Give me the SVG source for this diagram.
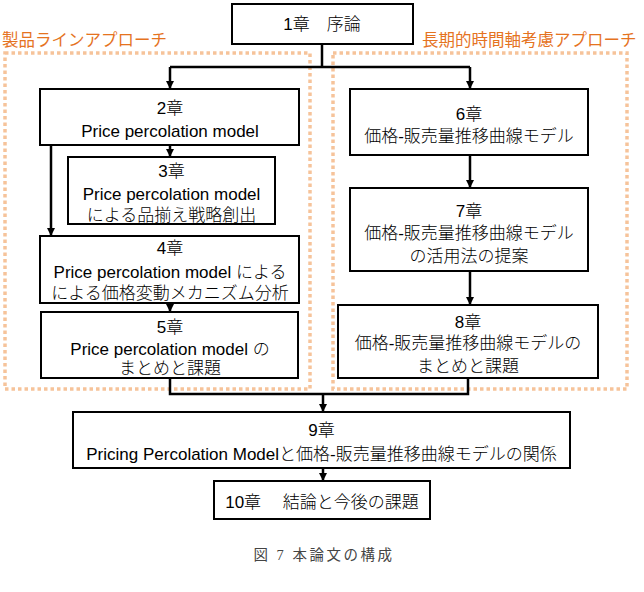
<svg xmlns="http://www.w3.org/2000/svg" width="644" height="592" viewBox="0 0 644 592">
<style>
.bx{fill:#fff;stroke:#000;stroke-width:2}
.t{font-family:"Liberation Sans","Noto Sans CJK JP",sans-serif;font-size:17px;font-weight:300;fill:#000;text-anchor:middle}
.c{fill:none;stroke:#000;stroke-width:2.5}
.grp{fill:none;stroke:#f6c39a;stroke-width:3.5;stroke-dasharray:3.5 3}
.lbl{font-family:"Noto Sans CJK JP",sans-serif;font-size:16.5px;font-weight:400;fill:#e5731f}
.cap{font-family:"Liberation Serif","Noto Sans CJK JP",serif;font-size:14.5px;fill:#444;text-anchor:middle;letter-spacing:2.5px}
</style>
<defs>
<marker id="ah" markerWidth="8" markerHeight="8" refX="7" refY="4" orient="auto" markerUnits="userSpaceOnUse">
<path d="M0,0 L8,4 L0,8 Z" fill="#000"/>
</marker>
</defs>
<g id="groups">
<rect class="grp" x="5" y="53" width="305" height="336"/>
<rect class="grp" x="333" y="53" width="294" height="336"/>
<text class="lbl" x="2" y="46">製品ラインアプローチ</text>
<text class="lbl" x="422" y="46">長期的時間軸考慮アプローチ</text>
</g>
<g id="connectors">
<polyline class="c" points="322,44 322,67"/>
<polyline class="c" points="170,67 470,67"/>
<polyline class="c" points="170,67 170,88" marker-end="url(#ah)"/>
<polyline class="c" points="470,67 470,88" marker-end="url(#ah)"/>
<polyline class="c" points="170,145 170,156" marker-end="url(#ah)"/>
<polyline class="c" points="51,145 51,235" marker-end="url(#ah)"/>
<polyline class="c" points="170,303 170,311" marker-end="url(#ah)"/>
<polyline class="c" points="470,155 470,187" marker-end="url(#ah)"/>
<polyline class="c" points="470,271 470,304" marker-end="url(#ah)"/>
<polyline class="c" points="170,378 170,394 468,394 468,378"/>
<polyline class="c" points="323,394 323,411" marker-end="url(#ah)"/>
<polyline class="c" points="323,468 323,480" marker-end="url(#ah)"/>
</g>
<g id="n1">
<rect class="bx" x="232" y="4" width="181" height="40"/>
<text class="t" x="322" y="30">1章　序論</text>
</g>
<g id="n2">
<rect class="bx" x="40" y="89" width="259" height="56"/>
<text class="t" x="170" y="114">2章</text>
<text class="t" x="170" y="137">Price percolation model</text>
</g>
<g id="n3">
<rect class="bx" x="68" y="157" width="207" height="67"/>
<text class="t" x="171.5" y="177">3章</text>
<text class="t" x="171.5" y="200">Price percolation model</text>
<text class="t" x="171.5" y="221">による品揃え戦略創出</text>
</g>
<g id="n4">
<rect class="bx" x="40" y="236" width="259" height="67"/>
<text class="t" x="170" y="254">4章</text>
<text class="t" x="170" y="278">Price percolation model による</text>
<text class="t" x="170" y="299">による価格変動メカニズム分析</text>
</g>
<g id="n5">
<rect class="bx" x="41" y="312" width="257" height="66"/>
<text class="t" x="170" y="333">5章</text>
<text class="t" x="170" y="355">Price percolation model の</text>
<text class="t" x="170" y="374">まとめと課題</text>
</g>
<g id="n6">
<rect class="bx" x="350" y="89" width="238" height="66"/>
<text class="t" x="469" y="120">6章</text>
<text class="t" x="469" y="142">価格-販売量推移曲線モデル</text>
</g>
<g id="n7">
<rect class="bx" x="350" y="188" width="238" height="83"/>
<text class="t" x="469" y="217">7章</text>
<text class="t" x="469" y="239">価格-販売量推移曲線モデル</text>
<text class="t" x="469" y="262">の活用法の提案</text>
</g>
<g id="n8">
<rect class="bx" x="338" y="305" width="260" height="73"/>
<text class="t" x="468" y="328">8章</text>
<text class="t" x="468" y="349">価格-販売量推移曲線モデルの</text>
<text class="t" x="468" y="372">まとめと課題</text>
</g>
<g id="n9">
<rect class="bx" x="73" y="412" width="497" height="56"/>
<text class="t" x="321.5" y="436">9章</text>
<text class="t" x="321.5" y="460">Pricing Percolation Modelと価格-販売量推移曲線モデルの関係</text>
</g>
<g id="n10">
<rect class="bx" x="214" y="481" width="216" height="38"/>
<text class="t" x="322" y="508">10章　 結論と今後の課題</text>
</g>
<text class="cap" x="324" y="560">図 7 本論文の構成</text>
</svg>
